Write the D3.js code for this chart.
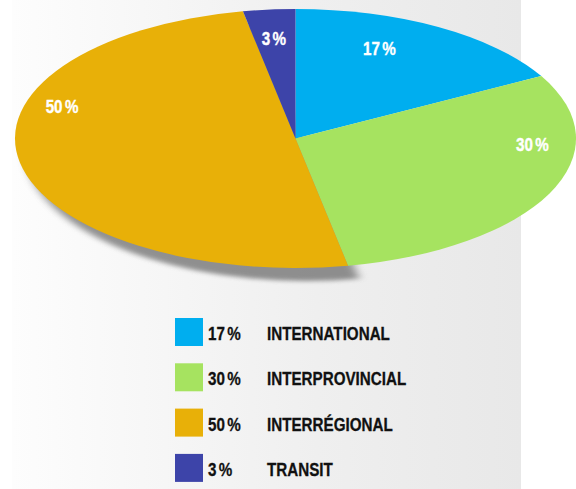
<!DOCTYPE html>
<html>
<head>
	<meta charset="utf-8">
	<title>Répartition</title>
	<style>
		body { margin: 0; background: #fff; }
		svg { display: block; }
		.lbl {
			font-family: 'Liberation Sans', Arial, sans-serif;
			font-weight: 700;
		}
	</style>
</head>
<body>
	<svg width="576" height="489"></svg>
<script src="https://d3js.org/d3.v7.min.js"></script>
<script>

	// data
	const categories = ['INTERNATIONAL', 'INTERPROVINCIAL', 'INTERRÉGIONAL', 'TRANSIT'];
	const values = [17, 30, 50, 3];
	const colors = ['#00aeef', '#a6e360', '#e8b008', '#3d44a9'];

	const width = 576, height = 489;
	const cx = 295.5, cy = 138.5, rx = 280.5, ry = 129.5;
	const squeeze = 0.8; // condensed look

	const svg = d3.select('svg');
	const defs = svg.append('defs');

	// background panel gradient
	const grad = defs.append('linearGradient').attr('id', 'bg')
		.attr('x1', '0%').attr('x2', '100%').attr('y1', '0%').attr('y2', '0%');
	grad.append('stop').attr('offset', '0%').attr('stop-color', '#fdfdfd');
	grad.append('stop').attr('offset', '60%').attr('stop-color', '#efefef');
	grad.append('stop').attr('offset', '100%').attr('stop-color', '#e8e8e8');

	svg.append('rect')
		.attr('x', 12).attr('y', 0)
		.attr('width', 509).attr('height', height)
		.attr('fill', 'url(#bg)');

	const blur = defs.append('filter').attr('id', 'shadow')
		.attr('x', '-20%').attr('y', '-20%').attr('width', '140%').attr('height', '140%');
	blur.append('feGaussianBlur').attr('stdDeviation', 5);

	const pie = d3.pie().sort(null).value(d => d);
	const arcs = pie(values);

	const arc = d3.arc().innerRadius(0).outerRadius(rx);

	// shadow under the big slice
	svg.append('g')
		.attr('transform', `translate(${cx + 11}, ${cy + 13}) scale(1, ${ry / rx})`)
		.append('path')
		.attr('d', arc(arcs[2]))
		.attr('fill', '#5a5a5a')
		.attr('opacity', 0.65)
		.attr('filter', 'url(#shadow)');

	const g = svg.append('g')
		.attr('transform', `translate(${cx}, ${cy}) scale(1, ${ry / rx})`);

	g.selectAll('path')
		.data(arcs)
		.join('path')
		.attr('d', arc)
		.attr('fill', (d, i) => colors[i]);

	// label placement on the ellipse: angle (deg), radius fraction
	const labelAt = [[23.3, 0.757], [93.1, 0.846], [286.5, 0.868], [354.3, 0.778]];

	function pctText(sel, v) {
		sel.append('tspan').text(v);
		sel.append('tspan').attr('dx', 3).text('%');
	}

	svg.selectAll('text.pct')
		.data(values)
		.join('text')
		.attr('class', 'pct lbl')
		.attr('transform', (d, i) => {
			const a = labelAt[i][0] * Math.PI / 180, f = labelAt[i][1];
			return `translate(${cx + rx * f * Math.sin(a)}, ${cy - ry * f * Math.cos(a)}) scale(${squeeze}, 1)`;
		})
		.attr('dy', '0.36em')
		.attr('text-anchor', 'middle')
		.attr('fill', '#fff')
		.attr('stroke', '#fff').attr('stroke-width', 0.4)
		.style('font-size', '19px')
		.each(function(d) { pctText(d3.select(this), d); });

	// legend
	const legend = svg.append('g');
	const row = legend.selectAll('g')
		.data(categories)
		.join('g')
		.attr('transform', (d, i) => `translate(175, ${318 + i * 45.3})`);

	row.append('rect')
		.attr('width', 28).attr('height', 28)
		.attr('fill', (d, i) => colors[i]);

	row.append('text')
		.attr('class', 'lbl')
		.attr('transform', `translate(33, 22) scale(${squeeze}, 1)`)
		.attr('fill', '#111')
		.attr('stroke', '#111').attr('stroke-width', 0.3)
		.style('font-size', '19px')
		.each(function(d, i) { pctText(d3.select(this), values[i]); });

	row.append('text')
		.attr('class', 'lbl')
		.attr('transform', `translate(92, 22) scale(${squeeze}, 1)`)
		.attr('fill', '#111')
		.attr('stroke', '#111').attr('stroke-width', 0.3)
		.style('font-size', '19px')
		.text(d => d);

</script>
</body>
</html>
